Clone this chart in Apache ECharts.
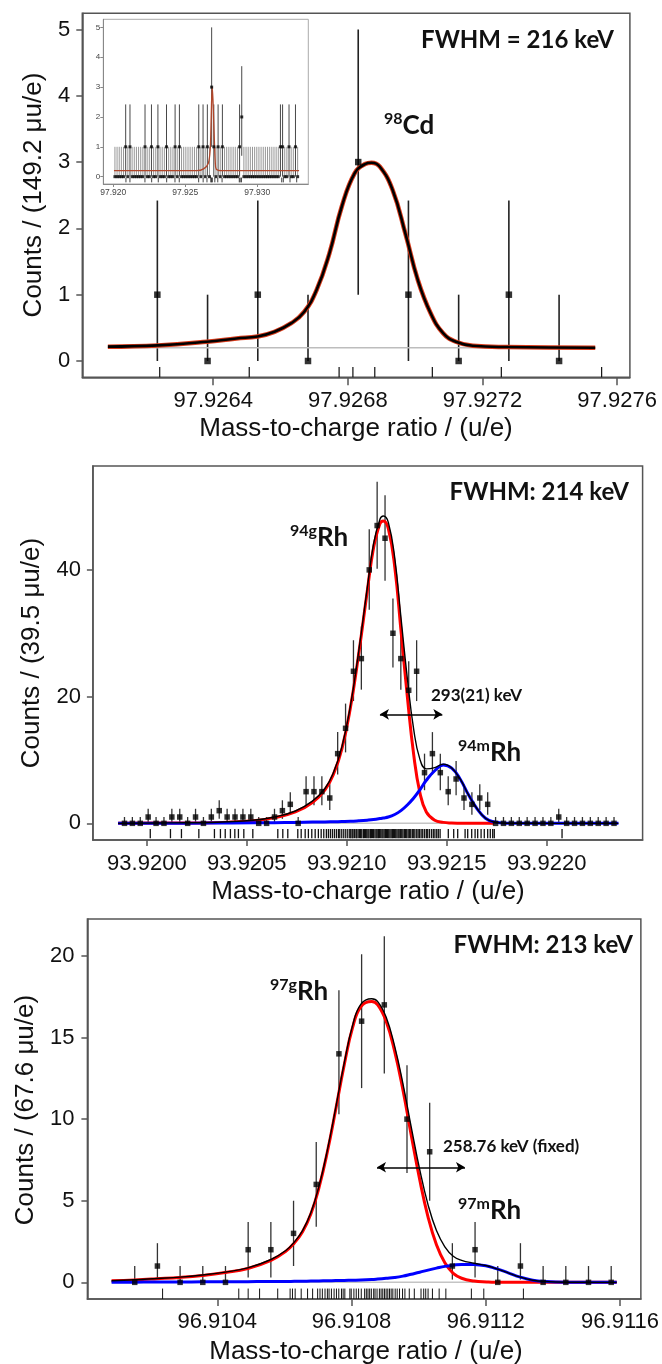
<!DOCTYPE html>
<html>
<head>
<meta charset="utf-8">
<script src="https://cdn.jsdelivr.net/npm/echarts@6/dist/echarts.min.js"></script>
<style>html,body{margin:0;padding:0;background:#fff;}#c{width:662px;height:1364px;}</style>
</head>
<body>
<div id="c"></div>
<script>
// ---------------- Panel 1 : 98Cd (bin width 149.2 µu) ----------------
const p1BinStart = 97.926234, p1BinWidth = 0.0001492;
const p1Counts = [1, 0, 1, 0, 3, 1, 0, 1, 0];
const p1ErrLo  = [0, 0, 0, 0, 1.0, 0, 0, 0, 0];
const p1ErrHi  = [2.42, 1, 2.42, 1, 5.0, 2.42, 1, 2.42, 1];
const p1CurveX = [97.926087, 97.926235, 97.926381, 97.926469, 97.926532, 97.926582, 97.926632, 97.926670, 97.926707, 97.926745, 97.926782, 97.926820, 97.926851, 97.926870, 97.926895, 97.926933, 97.926971, 97.927008, 97.927046, 97.927083, 97.927121, 97.927171, 97.927271, 97.927535];
const p1CurveY = [0.216, 0.235, 0.29, 0.34, 0.37, 0.44, 0.57, 0.74, 1.07, 1.62, 2.33, 2.83, 2.97, 2.99, 2.93, 2.58, 1.92, 1.22, 0.72, 0.42, 0.29, 0.23, 0.21, 0.2];
const p1Baseline = 0.2;
const p1Events = [97.920882, 97.921160, 97.922201, 97.922667, 97.923125, 97.923708, 97.924285, 97.924583, 97.925930, 97.926241, 97.926507, 97.926774, 97.926815, 97.926880, 97.927051, 97.927256, 97.927554, 97.928749, 97.928810, 97.928900, 97.931694, 97.931805, 97.932270, 97.932735];
const p1XTicks = [97.9264, 97.9268, 97.9272, 97.9276];
const p1YTicks = [0, 1, 2, 3, 4, 5];

// Inset (wide range, same binning)
const insBinStart = 97.920117, insBinWidth = 0.0001492;
const insCounts = [0,0,0,0,0,1,0,1,0,0, 0,0,0,0,1,0,0,1,0,0, 1,0,0,0,1,0,0,0,1,0, 1,0,0,0,0,0,0,0,0,1,
                   0,1,0,1,0,3,1,0,1,0, 1,0,0,0,0,0,0,0,1,2, 0,0,0,0,0,0,0,0,0,0, 0,0,0,0,0,0,0,1,1,0, 0,1,0,0,1,0];
const insErrByCount = {0: [0, 1.0], 1: [0, 2.42], 2: [0.7, 3.7], 3: [1.0, 5.0]};
const insCurveX = [97.92005, 97.9258, 97.9263, 97.9266, 97.92673, 97.92678, 97.92682, 97.92687, 97.92692, 97.92697, 97.92702, 97.92708, 97.92715, 97.9275, 97.9329];
const insCurveY = [0.2, 0.2, 0.27, 0.45, 0.9, 1.6, 2.4, 3.0, 2.6, 1.9, 1.2, 0.5, 0.25, 0.2, 0.2];
const insXTicks = [97.920, 97.925, 97.930];
const insYTicks = [0, 1, 2, 3, 4, 5];

// ---------------- Panel 2 : 94Rh (bin width 39.5 µu) ----------------
const p2BinStart = 93.919888, p2BinWidth = 0.0000395;
const p2Counts = [0,0,0,1,0,0,1,1,0,1, 0,1,2,1,1,1,1,0,0,1, 2,3,0,5,5,5,4,11,15,24,
                  26,40,47,45,30,26,21,24,8,11, 8,5,7,4,3,4,3,0,0,0, 0,0,0,0,0,1,0,0,0,0, 0,0,0];
const p2ErrLo = [0,0,0,0.17,0,0,0.17,0.17,0,0.17, 0,0.17,0.71,0.17,0.17,0.17,0.17,0,0,0.17,
                 0.71,1.37,0,2.84,2.84,2.84,2.09,7.7,11.2,19.3, 21.1,33.7,40.2,38.3,24.6,21.1,16.5,19.3,5.23,7.7,
                 5.23,2.84,4.42,2.09,1.37,2.09,1.37,0,0,0, 0,0,0,0,0,0.17,0,0,0,0, 0,0,0];
const p2ErrHi = [1,1,1,2.3,1,1,2.3,2.3,1,2.3, 1,2.3,3.64,2.3,2.3,2.3,2.3,1,1,2.3,
                 3.64,4.92,1,7.42,7.42,7.42,6.17,14.4,18.9,28.9, 31.1,46.4,53.9,51.8,35.5,31.1,25.6,28.9,11.0,14.4,
                 11.0,7.42,9.83,6.17,4.92,6.17,4.92,1,1,1, 1,1,1,1,1,2.3,1,1,1,1, 1,1,1];
const p2CurveX = [93.919856, 93.920110, 93.920321, 93.920532, 93.920638, 93.920743, 93.920828, 93.920891, 93.920934, 93.920976, 93.921018, 93.921060, 93.921102, 93.921134, 93.921166, 93.921183, 93.921208, 93.921240, 93.921271, 93.921303, 93.921335, 93.921366, 93.921398, 93.921440, 93.921483, 93.921525, 93.921567, 93.921609, 93.921652, 93.921694, 93.921736, 93.921799, 93.922011, 93.922359];
const p2Ground = [0, 0.05, 0.1, 0.4, 0.9, 1.8, 3.3, 5.3, 7.8, 11.8, 18.2, 26.8, 36.5, 43.5, 47.3, 47.7, 46.5, 40.5, 30.5, 20, 10.8, 4.8, 1.8, 0.5, 0.15, 0.05, 0.02, 0, 0, 0, 0];
const p2Isomer = [0, 0.02, 0.04, 0.08, 0.1, 0.15, 0.2, 0.22, 0.25, 0.28, 0.32, 0.4, 0.5, 0.6, 0.75, 0.85, 1.0, 1.4, 2.0, 2.9, 4.0, 5.3, 6.8, 8.3, 9.2, 8.7, 7.0, 4.5, 2.3, 0.8, 0.2, 0.02, 0, 0];
const p2Total = [0, 0.07, 0.14, 0.48, 1.0, 1.95, 3.5, 5.5, 8.05, 12.1, 18.5, 27.2, 37.0, 44.1, 48.0, 48.5, 47.5, 41.9, 32.5, 22.9, 14.8, 10.1, 8.6, 8.8, 9.35, 8.75, 7.0, 4.5, 2.3, 0.8, 0.2, 0.02, 0, 0];
const p2Events = [93.920017, 93.920118, 93.920173, 93.920260, 93.920338, 93.920368, 93.920392, 93.920418, 93.920440, 93.920458, 93.920485, 93.920530, 93.920655, 93.920680, 93.920705, 93.920755, 93.920772, 93.920792, 93.920808, 93.920825, 93.920842, 93.920858, 93.920872, 93.920885, 93.920898, 93.920908, 93.920918, 93.920928, 93.920938, 93.920948, 93.920958, 93.920965, 93.920975, 93.920985, 93.920995, 93.921005, 93.921015,
  93.921020, 93.921027, 93.921031, 93.921038, 93.921046, 93.921050, 93.921057, 93.921064, 93.921069, 93.921075, 93.921083, 93.921088, 93.921094, 93.921100, 93.921106, 93.921111, 93.921118, 93.921123, 93.921129, 93.921134, 93.921141, 93.921147, 93.921152, 93.921158, 93.921163, 93.921170, 93.921176, 93.921181, 93.921187, 93.921193, 93.921199, 93.921204, 93.921210, 93.921216, 93.921222, 93.921228, 93.921233, 93.921239, 93.921245, 93.921251, 93.921257, 93.921262, 93.921268, 93.921275, 93.921281, 93.921288, 93.921294, 93.921300, 93.921307, 93.921313, 93.921320, 93.921328, 93.921335, 93.921341, 93.921350, 93.921357, 93.921364, 93.921372, 93.921380, 93.921389, 93.921398, 93.921405, 93.921414, 93.921424, 93.921433, 93.921441, 93.921450, 93.921458, 93.921467,
  93.921508, 93.921535, 93.921555, 93.921592, 93.921605, 93.921625, 93.921642, 93.921655, 93.921672, 93.921688, 93.921705, 93.921718, 93.921730, 93.921738, 93.922077];
const p2Arrow = [93.921166, 93.921478, 17.2];
const p2XTicks = [93.9200, 93.9205, 93.9210, 93.9215, 93.9220];
const p2YTicks = [0, 20, 40];

// ---------------- Panel 3 : 97Rh (bin width 67.6 µu) ----------------
const p3BinStart = 96.910154, p3BinWidth = 0.0000676;
const p3Counts = [0, 1, 0, 0, 0, 2, 2, 3, 6, 14, 16, 17, 10, 8, 1, 2, 0, 1, 0, 0, 0, 0];
const p3ErrLo  = [0, 0.17, 0, 0, 0, 0.3, 0.3, 1.0, 3.4, 10.3, 11.9, 12.8, 6.7, 5.0, 0.17, 0.3, 0, 0.17, 0, 0, 0, 0];
const p3ErrHi  = [1.0, 2.4, 1.0, 1.0, 1.0, 3.7, 3.7, 5.0, 8.6, 17.9, 20.1, 21.2, 13.3, 11.0, 2.4, 3.7, 1.0, 2.4, 1.0, 1.0, 1.0, 1.0];
const p3CurveX = [96.910085, 96.910154, 96.910221, 96.910289, 96.910356, 96.910424, 96.910491, 96.910560, 96.910604, 96.910629, 96.910654, 96.910679, 96.910703, 96.910728, 96.910753, 96.910778, 96.910803, 96.910828, 96.910860, 96.910878, 96.910903, 96.910928, 96.910953, 96.910978, 96.911003, 96.911028, 96.911053, 96.911078, 96.911103, 96.911128, 96.911165, 96.911203, 96.911228, 96.911265, 96.911303, 96.911340, 96.911378, 96.911440, 96.911590];
const p3Ground = [0.1, 0.15, 0.22, 0.3, 0.42, 0.6, 0.85, 1.35, 1.9, 2.4, 3.1, 4.2, 5.8, 8.0, 10.6, 13.3, 15.6, 16.9, 17.2, 17.0, 16.0, 14.2, 11.8, 9.0, 6.3, 4.0, 2.3, 1.2, 0.55, 0.25, 0.08, 0.02, 0, 0, 0, 0, 0, 0, 0];
const p3Isomer = [0, 0.01, 0.02, 0.02, 0.03, 0.03, 0.04, 0.05, 0.05, 0.06, 0.07, 0.08, 0.09, 0.1, 0.11, 0.12, 0.13, 0.14, 0.17, 0.2, 0.25, 0.3, 0.38, 0.5, 0.62, 0.75, 0.87, 0.98, 1.05, 1.1, 1.09, 1.0, 0.86, 0.6, 0.32, 0.13, 0.05, 0.01, 0];
const p3Total = [0.1, 0.16, 0.24, 0.32, 0.45, 0.63, 0.89, 1.4, 1.95, 2.46, 3.17, 4.28, 5.89, 8.1, 10.71, 13.42, 15.73, 17.04, 17.37, 17.2, 16.25, 14.5, 12.18, 9.5, 6.92, 4.75, 3.17, 2.18, 1.6, 1.35, 1.17, 1.02, 0.86, 0.6, 0.32, 0.13, 0.05, 0.01, 0];
const p3Events = [96.910237, 96.910464, 96.910492, 96.910526, 96.910580, 96.910617, 96.910624, 96.910632, 96.910650, 96.910669, 96.910684, 96.910699,
  96.910706, 96.910713, 96.910721, 96.910728, 96.910733, 96.910740, 96.910748, 96.910755, 96.910762, 96.910770, 96.910775, 96.910780, 96.910795, 96.910799, 96.910807, 96.910814, 96.910821, 96.910829, 96.910839, 96.910844, 96.910849, 96.910854, 96.910859, 96.910866, 96.910870, 96.910876, 96.910883, 96.910888, 96.910893, 96.910898, 96.910903, 96.910908, 96.910913, 96.910918, 96.910923, 96.910930, 96.910936, 96.910943, 96.910952, 96.910959, 96.910972, 96.910987, 96.911007, 96.911015, 96.911021, 96.911028,
  96.911041, 96.911061, 96.911081, 96.911157, 96.911194, 96.911312];
const p3Arrow = [96.9108758, 96.9111380, 7.05];
const p3XTicks = [96.9104, 96.9108, 96.9112, 96.9116];
const p3YTicks = [0, 5, 10, 15, 20];

// ---------------- helpers ----------------
const AX = '#555', TXT = '#111', LAB = 'Liberation Sans, Arial, sans-serif', BOLD = 'Lato, Carlito, sans-serif';
const centers = (start, w, n) => Array.from({length: n}, (_, i) => start + i * w);
const pairs = (xs, ys) => ys.map((y, i) => [xs[i], y]);

function xAx(gi, min, max, ticks, dec, fs, tl, margin, col) {
  return {type: 'value', gridIndex: gi, min, max, scale: true,
    axisLine: {show: true, onZero: false, lineStyle: {color: col || AX, width: gi === 1 ? 1 : 1.5}},
    axisTick: {show: true, customValues: ticks, length: tl, lineStyle: {color: col || AX, width: gi === 1 ? 1 : 1.5}},
    axisLabel: {customValues: ticks, formatter: v => v.toFixed(dec), fontSize: fs, fontFamily: LAB, color: gi === 1 ? '#444' : TXT, margin},
    splitLine: {show: false}};
}
function yAx(gi, min, max, ticks, fs, tl, margin, col) {
  return {type: 'value', gridIndex: gi, min, max,
    axisLine: {show: true, onZero: false, lineStyle: {color: col || AX, width: gi === 1 ? 1 : 1.5}},
    axisTick: {show: true, customValues: ticks, length: tl, lineStyle: {color: col || AX, width: gi === 1 ? 1 : 1.5}},
    axisLabel: {customValues: ticks, formatter: v => String(Math.round(v)), fontSize: fs, fontFamily: LAB, color: gi === 1 ? '#444' : TXT, margin},
    splitLine: {show: false}};
}
function errSeries(ai, xs, lo, hi, color, width, z) {
  return {type: 'custom', xAxisIndex: ai, yAxisIndex: ai, z: z || 3, silent: true,
    data: xs.map((x, i) => [x, lo[i], hi[i]]), encode: {x: 0, y: [1, 2]},
    renderItem: (p, api) => {
      const a = api.coord([api.value(0), api.value(1)]), b = api.coord([api.value(0), api.value(2)]);
      return {type: 'line', shape: {x1: a[0], y1: a[1], x2: b[0], y2: b[1]}, style: {stroke: color, lineWidth: width}};
    }};
}
function rugSeries(ai, xs, y0, y1, width) {
  return {type: 'custom', xAxisIndex: ai, yAxisIndex: ai, z: 3, silent: true,
    data: xs.map(x => [x]), encode: {x: 0},
    renderItem: (p, api) => {
      const a = api.coord([api.value(0), y0]), b = api.coord([api.value(0), y1]);
      return {type: 'line', shape: {x1: a[0], y1: a[1], x2: b[0], y2: b[1]}, style: {stroke: '#111', lineWidth: width}};
    }};
}
function pts(ai, xs, ys, size) {
  return {type: 'scatter', xAxisIndex: ai, yAxisIndex: ai, z: 6, silent: true, symbol: 'rect', symbolSize: size,
    itemStyle: {color: '#000'}, data: pairs(xs, ys)};
}
function curve(ai, xs, ys, color, width, z, extra) {
  return Object.assign({type: 'line', xAxisIndex: ai, yAxisIndex: ai, z: z || 4, silent: true, showSymbol: false,
    smooth: 0.45, lineStyle: {color, width, join: 'round'}, data: pairs(xs, ys)}, extra || {});
}
function arrowMark(arr) {
  return {markLine: {silent: true, symbol: ['arrow', 'arrow'], symbolSize: [8, 9], label: {show: false},
    lineStyle: {color: '#000', width: 1.6, type: 'solid'},
    data: [[{coord: [arr[0], arr[2]]}, {coord: [arr[1], arr[2]]}]]}};
}
function tx(x, y, text, font, align, extra) {
  return Object.assign({type: 'text', x, y, z: 20, silent: true,
    style: {text, font, fill: TXT, align: align || 'left', verticalAlign: 'middle'}}, extra || {});
}
function iso(x, y, sup, main) {
  return {type: 'text', x, y, z: 20, silent: true,
    style: {text: '{s|' + sup + '}{b|' + main + '}', align: 'left', verticalAlign: 'middle',
      rich: {s: {fontSize: 16, fontFamily: BOLD, fontWeight: 'bold', fill: TXT, verticalAlign: 'top', lineHeight: 17},
             b: {fontSize: 26, fontFamily: BOLD, fontWeight: 'bold', fill: TXT, lineHeight: 30}}}};
}

// ---------------- derived positions ----------------
const p1X = centers(p1BinStart, p1BinWidth, p1Counts.length);
const insX = centers(insBinStart, insBinWidth, insCounts.length);
const p2X = centers(p2BinStart, p2BinWidth, p2Counts.length);
const p3X = centers(p3BinStart, p3BinWidth, p3Counts.length);
const P1MIN = 97.926011, P1MAX = 97.927638;
const p1Visible = p1Events.filter(v => v > P1MIN && v < P1MAX);

const chart = echarts.init(document.getElementById('c'), null, {renderer: 'canvas'});
chart.setOption({
  animation: false,
  backgroundColor: '#fff',
  grid: [
    {left: 82.3, top: 13.3, width: 547.6, height: 364, show: true, borderColor: AX, borderWidth: 1.5, backgroundColor: 'transparent'},
    {left: 103.3, top: 19.3, width: 205, height: 164.7, show: true, borderColor: '#aaa', borderWidth: 1, backgroundColor: '#fff'},
    {left: 92.9, top: 466, width: 549.7, height: 374, show: true, borderColor: AX, borderWidth: 1.5, backgroundColor: 'transparent'},
    {left: 87.4, top: 919, width: 557.7, height: 380, show: true, borderColor: AX, borderWidth: 1.5, backgroundColor: 'transparent'}
  ],
  xAxis: [
    xAx(0, P1MIN, P1MAX, p1XTicks, 4, 22, 8, 13),
    xAx(1, 97.91931, 97.93354, insXTicks, 3, 8.5, 3, 4, '#888'),
    xAx(2, 93.919730, 93.922480, p2XTicks, 4, 22, 6, 13),
    xAx(3, 96.910013, 96.911662, p3XTicks, 4, 22, 7, 12)
  ],
  yAxis: [
    yAx(0, -0.246, 5.244, p1YTicks, 22, 6, 12),
    yAx(1, -0.245, 5.27, insYTicks, 8, 3, 3, '#888'),
    yAx(2, -2.63, 56.4, p2YTicks, 22, 6, 12),
    yAx(3, -1.02, 22.26, p3YTicks, 22, 6, 13)
  ],
  series: [
    // panel 1
    curve(0, [p1CurveX[0], p1CurveX[p1CurveX.length - 1]], [p1Baseline, p1Baseline], '#bdbdbd', 1.5, 3, {smooth: false}),
    rugSeries(0, p1Visible, -0.09, -0.246, 1.2),
    errSeries(0, p1X, p1ErrLo, p1ErrHi, '#222', 1.6),
    curve(0, p1CurveX, p1CurveY, '#d83a1a', 4.5, 4),
    curve(0, p1CurveX, p1CurveY, '#000', 2.6, 5),
    pts(0, p1X, p1Counts, 6.5),
    // inset
    {type: 'custom', xAxisIndex: 1, yAxisIndex: 1, z: 3, silent: true,
     data: insX.map((x, i) => [x, insErrByCount[insCounts[i]][0], insErrByCount[insCounts[i]][1], insCounts[i]]), encode: {x: 0, y: [1, 2]},
     renderItem: (p, api) => {
       const a = api.coord([api.value(0), api.value(1)]), b = api.coord([api.value(0), api.value(2)]);
       return {type: 'line', shape: {x1: a[0], y1: a[1], x2: b[0], y2: b[1]}, style: {stroke: api.value(3) > 0 ? '#333' : '#8a8a8a', lineWidth: 0.9}};
     }},
    rugSeries(1, p1Events, -0.03, -0.19, 0.8),
    curve(1, insCurveX, insCurveY, '#b0462a', 1.3, 4, {smooth: 0.3}),
    pts(1, insX, insCounts, 3),
    // panel 2
    curve(2, [p2CurveX[0], p2CurveX[p2CurveX.length - 1]], [0, 0], '#c4c4c4', 1.5, 3, {smooth: false}),
    rugSeries(2, p2Events, -0.9, -2.35, 1.3),
    errSeries(2, p2X, p2ErrLo, p2ErrHi, '#333', 1.3),
    curve(2, p2CurveX.slice(0, p2Ground.length), p2Ground, '#ff0000', 3, 4),
    curve(2, p2CurveX, p2Isomer, '#0000ff', 3, 4),
    curve(2, p2CurveX, p2Total, '#000', 1.4, 5, arrowMark(p2Arrow)),
    pts(2, p2X, p2Counts, 5.5),
    // panel 3
    curve(3, [p3CurveX[0], p3CurveX[p3CurveX.length - 1]], [0, 0], '#c4c4c4', 1.5, 3, {smooth: false}),
    rugSeries(3, p3Events, -0.38, -1.02, 1),
    errSeries(3, p3X, p3ErrLo, p3ErrHi, '#333', 1.3),
    curve(3, p3CurveX, p3Ground, '#ff0000', 3, 4),
    curve(3, p3CurveX, p3Isomer, '#0000ff', 3, 4),
    curve(3, p3CurveX, p3Total, '#000', 1.4, 5, arrowMark(p3Arrow)),
    pts(3, p3X, p3Counts, 5.5)
  ],
  graphic: [
    // axis titles
    tx(33.8, 195, 'Counts / (149.2 μu/e)', '26px ' + LAB, 'center', {rotation: Math.PI / 2}),
    tx(356, 429, 'Mass-to-charge ratio / (u/e)', '26px ' + LAB, 'center'),
    tx(31.7, 653, 'Counts / (39.5 μu/e)', '26px ' + LAB, 'center', {rotation: Math.PI / 2}),
    tx(368, 892, 'Mass-to-charge ratio / (u/e)', '26px ' + LAB, 'center'),
    tx(26, 1110, 'Counts / (67.6 μu/e)', '26px ' + LAB, 'center', {rotation: Math.PI / 2}),
    tx(366, 1352, 'Mass-to-charge ratio / (u/e)', '26px ' + LAB, 'center'),
    // annotations
    tx(614, 40, 'FWHM = 216 keV', 'bold 24px ' + BOLD, 'right'),
    iso(384, 126, '98', 'Cd'),
    tx(629, 492, 'FWHM: 214 keV', 'bold 24px ' + BOLD, 'right'),
    iso(290, 538, '94g', 'Rh'),
    iso(458, 753, '94m', 'Rh'),
    tx(431, 696, '293(21) keV', 'bold 17px ' + BOLD, 'left'),
    tx(633, 945, 'FWHM: 213 keV', 'bold 24px ' + BOLD, 'right'),
    iso(270, 992, '97g', 'Rh'),
    iso(458, 1211, '97m', 'Rh'),
    tx(443, 1147, '258.76 keV (fixed)', 'bold 17px ' + BOLD, 'left')
  ]
});
</script>
</body>
</html>
